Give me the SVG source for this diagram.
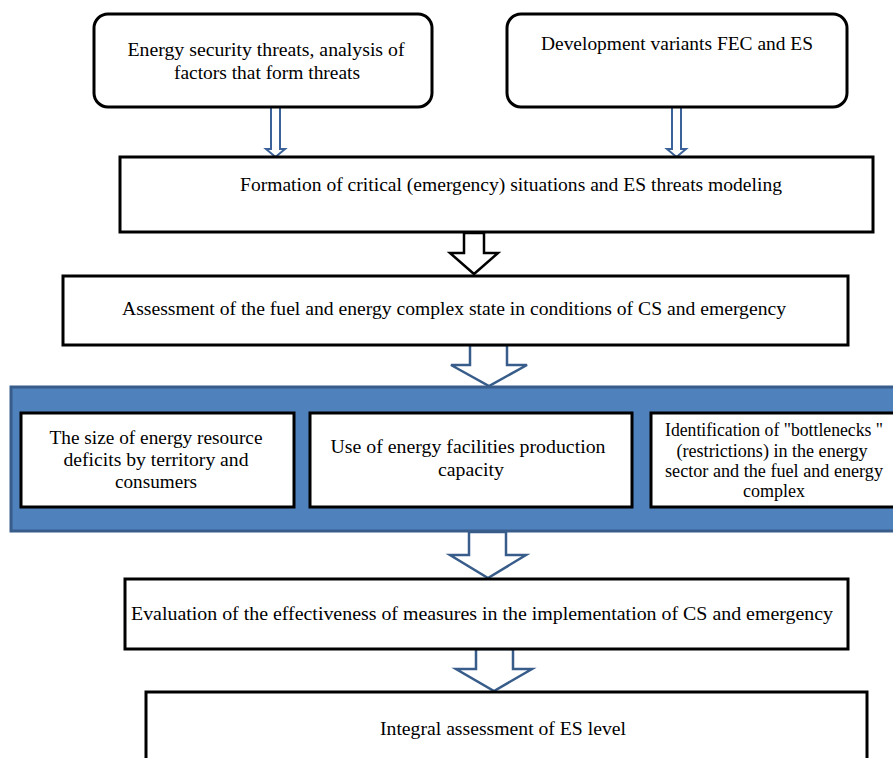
<svg xmlns="http://www.w3.org/2000/svg" width="893" height="758" viewBox="0 0 893 758">
<style>
.box{fill:#fff;stroke:#000;stroke-width:3}
.t{font-family:"Liberation Serif","Times New Roman",serif;font-size:18px;fill:#000;text-anchor:middle}
.ba{fill:#fff;stroke:#000;stroke-width:2.5;stroke-linejoin:miter}
.bb{fill:#fff;stroke:#385D8A;stroke-width:2.5;stroke-linejoin:miter}
.thin{fill:#fff;stroke:#3B6399;stroke-width:2}
</style>
<rect width="893" height="758" fill="#fff"/>
<g id="connectors">
  <path class="thin" d="M271,107 V149 H266 L275.5,157 L285,149 H280 V107 Z"/>
  <path class="thin" d="M672,107 V149 H667 L676.5,157 L686,149 H681 V107 Z"/>
  <path class="ba" d="M464,233 V253 H450 L474,274 L498,253 H484 V233 Z"/>
  <path class="bb" d="M470,345 V365 H451 L489,386 L527,365 H507 V345 Z"/>
  <path class="bb" d="M469,532 V555 H450 L488,578 L526,555 H506 V532 Z"/>
  <path class="bb" d="M476,649 V669 H456 L494,691 L532,669 H513 V649 Z"/>
</g>
<g id="n1">
  <rect class="box" x="94" y="14" width="338" height="93" rx="14"/>
  <text class="t" x="266" y="56" textLength="277" lengthAdjust="spacingAndGlyphs">Energy security threats, analysis of</text>
  <text class="t" x="267" y="79" textLength="186" lengthAdjust="spacingAndGlyphs">factors that form threats</text>
</g>
<g id="n2">
  <rect class="box" x="507" y="14" width="340" height="93" rx="14"/>
  <text class="t" x="677" y="50" textLength="272" lengthAdjust="spacingAndGlyphs">Development variants FEC and ES</text>
</g>
<g id="n3">
  <rect class="box" x="120" y="157" width="753" height="75"/>
  <text class="t" x="511" y="191" textLength="542" lengthAdjust="spacingAndGlyphs">Formation of critical (emergency) situations and ES threats modeling</text>
</g>
<g id="n4">
  <rect class="box" x="63" y="276" width="785" height="69"/>
  <text class="t" x="454" y="315" textLength="664" lengthAdjust="spacingAndGlyphs">Assessment of the fuel and energy complex state in conditions of CS and emergency</text>
</g>
<g id="panel">
  <rect x="11" y="387" width="892" height="144" fill="#4F81BD" stroke="#385D8A" stroke-width="3"/>
</g>
<g id="n5">
  <rect class="box" x="21" y="413" width="273" height="94"/>
  <text class="t" x="156" y="444" textLength="213" lengthAdjust="spacingAndGlyphs">The size of energy resource</text>
  <text class="t" x="156" y="466" textLength="185" lengthAdjust="spacingAndGlyphs">deficits by territory and</text>
  <text class="t" x="156" y="488" textLength="82" lengthAdjust="spacingAndGlyphs">consumers</text>
</g>
<g id="n6">
  <rect class="box" x="310" y="413" width="322" height="94"/>
  <text class="t" x="468" y="453" textLength="275" lengthAdjust="spacingAndGlyphs">Use of energy facilities production</text>
  <text class="t" x="471" y="476" textLength="66" lengthAdjust="spacingAndGlyphs">capacity</text>
</g>
<g id="n7">
  <rect class="box" x="651" y="413" width="250" height="94"/>
  <text class="t" x="774" y="436" textLength="218" lengthAdjust="spacingAndGlyphs">Identification of "bottlenecks "</text>
  <text class="t" x="772" y="457" textLength="191" lengthAdjust="spacingAndGlyphs">(restrictions) in the energy</text>
  <text class="t" x="774" y="477" textLength="218" lengthAdjust="spacingAndGlyphs">sector and the fuel and energy</text>
  <text class="t" x="774" y="497" textLength="62" lengthAdjust="spacingAndGlyphs">complex</text>
</g>
<g id="n8">
  <rect class="box" x="125" y="579" width="723" height="70"/>
  <text class="t" x="482" y="620" textLength="702" lengthAdjust="spacingAndGlyphs">Evaluation of the effectiveness of measures in the implementation of CS and emergency</text>
</g>
<g id="n9">
  <rect class="box" x="146" y="692" width="721" height="80"/>
  <text class="t" x="503" y="735" textLength="246" lengthAdjust="spacingAndGlyphs">Integral assessment of ES level</text>
</g>
</svg>
